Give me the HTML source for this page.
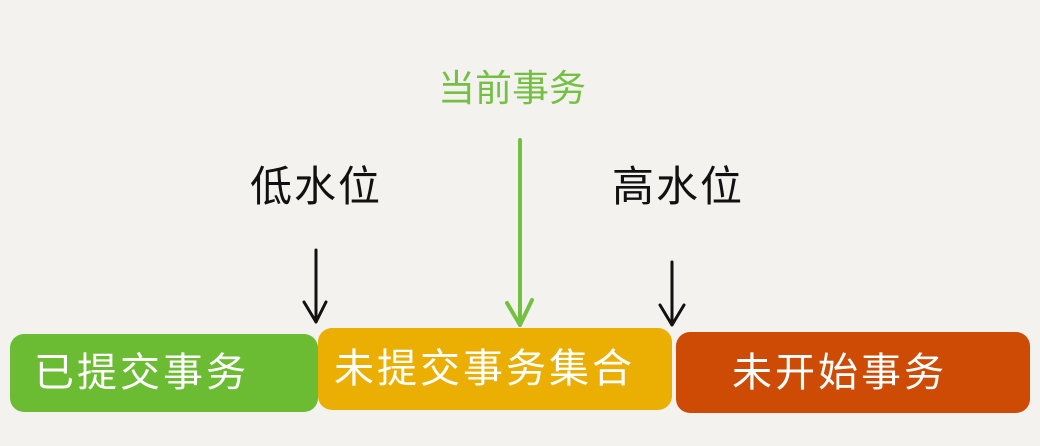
<!DOCTYPE html>
<html><head><meta charset="utf-8"><style>
body{margin:0;width:1040px;height:446px;background:#f3f2ee;position:relative;overflow:hidden;font-family:"Liberation Sans","Noto Sans CJK SC",sans-serif}
.b{position:absolute;border-radius:14px;color:#fff;font-size:40px;line-height:1;display:flex;align-items:center;letter-spacing:3px}
.t{position:absolute;font-size:42px;line-height:1;letter-spacing:2px}
</style></head><body>
<div class="b" style="left:10px;top:334px;width:308px;height:78px;background:#6bbb33;padding-left:24px;box-sizing:border-box">已提交事务</div>
<div class="b" style="left:318px;top:328px;width:354px;height:82px;background:#ebaf03;padding-left:16px;box-sizing:border-box">未提交事务集合</div>
<div class="b" style="left:676px;top:332px;width:354px;height:81px;background:#cd4b05;padding-left:56px;box-sizing:border-box">未开始事务</div>
<div class="t" style="left:438px;top:70px;color:#74c043;font-size:37px;letter-spacing:0">当前事务</div>
<div class="t" style="left:250px;top:166px;color:#111">低水位</div>
<div class="t" style="left:612px;top:166px;color:#111">高水位</div>
<svg width="1040" height="446" style="position:absolute;left:0;top:0">
<g fill="none" stroke-linecap="round" stroke-linejoin="round">
<path d="M520 140 L520 325 M507 303 L520 325 L532 300" stroke="#74c043" stroke-width="4"/>
<path d="M316 250 L316 322 M304 302 L316 322 L326 302" stroke="#111" stroke-width="3"/>
<path d="M672 262 L672 325 M660 305 L672 325 L684 305" stroke="#111" stroke-width="3"/>
</g></svg>
</body></html>
